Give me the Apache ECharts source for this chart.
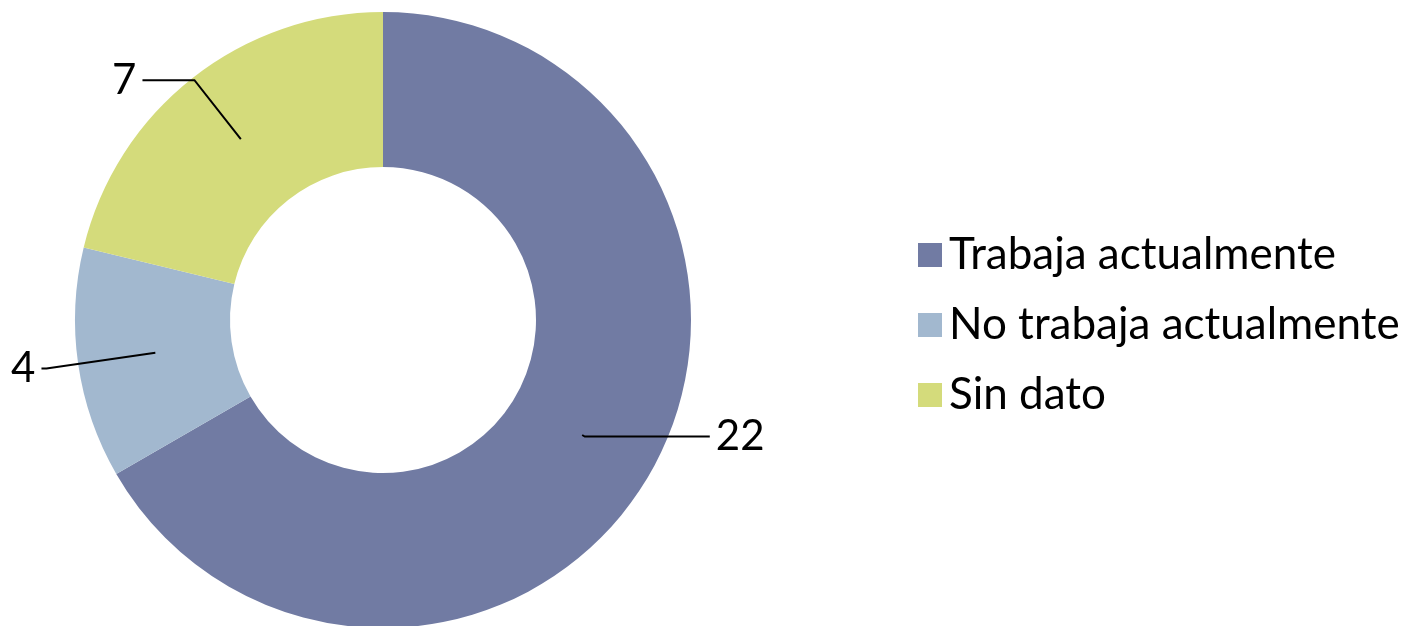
<!DOCTYPE html>
<html>
<head>
<meta charset="utf-8">
<script src="https://cdn.jsdelivr.net/npm/echarts@6/dist/echarts.min.js"></script>
<style>
html,body{margin:0;padding:0;background:#fff;}
#chart{width:1417px;height:626px;}
</style>
</head>
<body>
<div id="chart"></div>
<script>
const categories = ['Trabaja actualmente', 'No trabaja actualmente', 'Sin dato'];
const values = [22, 4, 7];
const colors = ['#717BA3', '#A2B8CF', '#D4DB7B'];
const lineLengths = [[3, 125], [110, 5], [75, 52]];

const FONT = 'Lato, "Open Sans", sans-serif';
const chart = echarts.init(document.getElementById('chart'), null, {renderer: 'canvas'});

const ringData = categories.map((c, i) => ({name: c, value: values[i], itemStyle: {color: colors[i]}}));
const labelData = categories.map((c, i) => ({
  name: c, value: values[i],
  labelLine: {length: lineLengths[i][0], length2: lineLengths[i][1]}
}));

chart.setOption({
  animation: false,
  backgroundColor: '#ffffff',
  legend: {
    orient: 'vertical',
    left: 913,
    top: 227,
    data: categories,
    icon: 'rect',
    itemWidth: 24,
    itemHeight: 24,
    itemGap: 24,
    selectedMode: false,
    textStyle: {fontFamily: FONT, fontSize: 44, color: '#000', lineHeight: 46, padding: [0, 0, 0, 2]}
  },
  series: [
    {
      type: 'pie',
      center: [383, 320],
      radius: [153, 308],
      startAngle: 90,
      clockwise: true,
      silent: true,
      label: {show: false},
      labelLine: {show: false},
      data: ringData
    },
    {
      type: 'pie',
      center: [383, 320],
      radius: [0, 230],
      startAngle: 90,
      clockwise: true,
      silent: true,
      avoidLabelOverlap: false,
      itemStyle: {color: 'rgba(0,0,0,0)'},
      label: {
        show: true,
        position: 'outside',
        formatter: '{c}',
        fontFamily: FONT,
        fontSize: 42,
        color: '#000',
        distanceToLabelLine: 6
      },
      labelLine: {show: true, smooth: false, lineStyle: {color: '#000', width: 2}},
      data: labelData,
      z: 5
    }
  ]
});
</script>
</body>
</html>
